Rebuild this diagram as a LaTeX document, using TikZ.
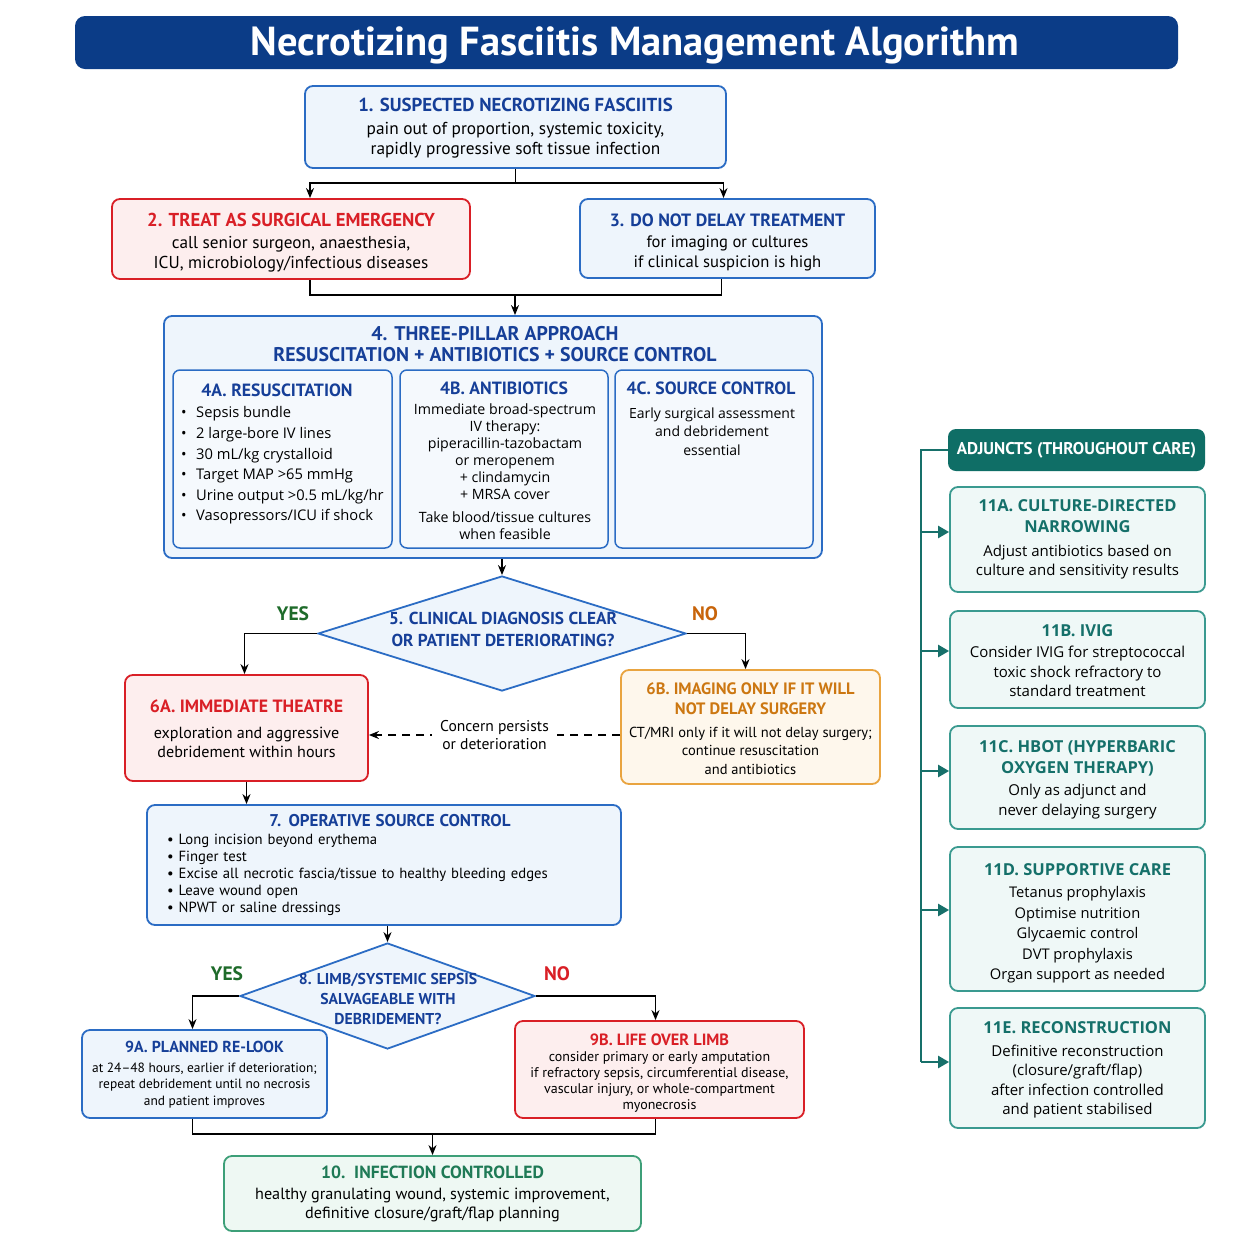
\documentclass[tikz,border=0pt]{standalone}
\usepackage{fontspec}
\setmainfont{PT Sans}
\newfontfamily\osans{Open Sans}
\usetikzlibrary{shapes.geometric,arrows.meta,calc}
\definecolor{navy}{HTML}{0B3C87}
\definecolor{tblue}{HTML}{163F98}
\definecolor{bblue}{HTML}{2B6CC4}
\definecolor{fblue}{HTML}{EEF5FC}
\definecolor{tred}{HTML}{D91F26}
\definecolor{fred}{HTML}{FDEEEE}
\definecolor{borange}{HTML}{E9A440}
\definecolor{torange}{HTML}{CC7711}
\definecolor{forange}{HTML}{FEF7EC}
\definecolor{bgreen}{HTML}{3D9F78}
\definecolor{tgreen}{HTML}{1F7A56}
\definecolor{fgreen}{HTML}{EEF8F3}
\definecolor{yesgreen}{HTML}{1E6B2A}
\definecolor{nored}{HTML}{D91F26}
\definecolor{noorange}{HTML}{C8640A}
\definecolor{teal1}{HTML}{17706A}
\definecolor{tealhdr}{HTML}{0F6E66}
\definecolor{teal2}{HTML}{3A9A90}
\definecolor{fteal}{HTML}{EFF8F7}
\definecolor{tteal}{HTML}{15706A}
\newcommand\fs[2]{\fontsize{#1}{#2}\selectfont}
\newcommand\bt[2]{{\color{#1}\bfseries #2}}
\newcommand\up[1]{\rule{0pt}{#1pt}}
\tikzset{
  box/.style={draw, rounded corners=8pt, line width=1.8pt, align=center, inner sep=0pt},
  bluebox/.style={box, draw=bblue, fill=fblue},
  subbox/.style={box, draw=bblue, fill=fblue!60!white, line width=1.5pt, rounded corners=7pt},
  redbox/.style={box, draw=tred, fill=fred},
  orbox/.style={box, draw=borange, fill=forange},
  grbox/.style={box, draw=bgreen, fill=fgreen},
  adjbox/.style={box, draw=teal2, fill=fteal, minimum width=255pt, font=\osans\fs{15}{19.5}},
  dia/.style={diamond, draw=bblue, fill=fblue, line width=1.8pt, inner sep=0pt},
  txt/.style={align=center, inner sep=0pt},
  ln/.style={line width=1.6pt, black},
  arr/.style={line width=1.6pt, black, -{Stealth[length=10pt,width=8pt]}},
  tln/.style={line width=2.4pt, teal1},
  tarr/.style={line width=2.4pt, teal1, -{Triangle[length=11pt,width=12pt]}},
}
\begin{document}
\begin{tikzpicture}[x=1pt,y=-1pt]
\fill[white] (0,0) rectangle (1254,1254);
\useasboundingbox (0,0) rectangle (1254,1254);

% title
\node[fill=navy, rounded corners=10pt, minimum width=1103pt, minimum height=53pt, inner sep=0pt] (title) at (626.5,42.5) {};
\node[txt, anchor=base, text=white, font=\bfseries\fs{40.5}{42}] (titletext) at (635,55.5) {Necrotizing Fasciitis Management Algorithm};

% box 1
\node[bluebox, minimum width=421pt, minimum height=82pt, font=\fs{17.3}{20}] (b1) at (515.5,127)
 {\up{16}\bt{tblue}{\fs{18.8}{20}1. SUSPECTED NECROTIZING FASCIITIS}\\[3pt]
  pain out of proportion, systemic toxicity,\\ rapidly progressive soft tissue infection};

% box 2 & 3
\node[redbox, minimum width=358pt, minimum height=80pt, font=\fs{17.2}{20}] (b2) at (291,239)
 {\up{20}\bt{tred}{\fs{18.7}{20}2. TREAT AS SURGICAL EMERGENCY}\\[2pt]
  call senior surgeon, anaesthesia,\\ ICU, microbiology/infectious diseases};
\node[bluebox, minimum width=295pt, minimum height=79pt, font=\fs{16.6}{20}] (b3) at (727.5,238.5)
 {\up{21}\bt{tblue}{\fs{17.8}{20}3. DO NOT DELAY TREATMENT}\\[1pt]
  for imaging or cultures\\ if clinical suspicion is high};

\coordinate (j1) at (515.5,183);
\coordinate (j2) at (515,295);
\draw[ln] (b1.south) -- (j1);
\draw[arr] (j1) -| ([xshift=19pt]b2.north);
\draw[arr] (j1) -| ([xshift=-4pt]b3.north);
\draw[ln] ([xshift=19pt]b2.south) |- (j2) -| ([xshift=-6pt]b3.south);

% box 4
\node[bluebox, minimum width=658pt, minimum height=242pt] (b4) at (493,437) {};
\draw[arr] (j2) -- (j2 |- b4.north);
\node[txt, font=\bfseries\fs{19.8}{21}, text=tblue] (b4t) at (495,344.5)
 {4. THREE-PILLAR APPROACH\\ RESUSCITATION + ANTIBIOTICS + SOURCE CONTROL};

\node[subbox, minimum width=219pt, minimum height=178pt] (b4a) at (282.5,459) {};
\node[subbox, minimum width=208pt, minimum height=178pt] (b4b) at (504,459) {};
\node[subbox, minimum width=198pt, minimum height=178pt] (b4c) at (714,459) {};

\node[txt, font=\bfseries\fs{17.7}{20}, text=tblue] (b4at) at (277,390) {4A. RESUSCITATION};
\node[txt, font=\bfseries\fs{17.7}{20}, text=tblue] (b4bt) at (504,388) {4B. ANTIBIOTICS};
\node[txt, font=\bfseries\fs{17.7}{20}, text=tblue] (b4ct) at (711,388) {4C. SOURCE CONTROL};

\node[txt, align=left, font=\osans\fs{14.7}{20.6}, anchor=west] (b4ab) at (181,465.5)
 {\textbullet\hspace{9.5pt}Sepsis bundle\\
  \textbullet\hspace{9.5pt}2 large-bore IV lines\\
  \textbullet\hspace{9.5pt}30 mL/kg crystalloid\\
  \textbullet\hspace{9.5pt}Target MAP >65 mmHg\\
  \textbullet\hspace{9.5pt}Urine output >0.5 mL/kg/hr\\
  \textbullet\hspace{9.5pt}Vasopressors/ICU if shock};
\node[txt, font=\osans\fs{14.2}{17}] (b4bb) at (505,471.5)
 {Immediate broad-spectrum\\ IV therapy:\\ piperacillin-tazobactam\\ or meropenem\\
  + clindamycin\\ + MRSA cover\\[6pt] Take blood/tissue cultures\\ when feasible};
\node[txt, font=\osans\fs{14}{18.5}] (b4cb) at (712,431.5)
 {Early surgical assessment\\ and debridement\\ essential};

% diamond 5
\node[dia, minimum width=368pt, minimum height=115pt] (d5) at (502,633.5) {};
\draw[arr] (b4.south -| d5.north) -- (d5.north);
\node[txt, font=\bfseries\fs{17.3}{22}, text=tblue] (d5t) at (503,629)
 {5. CLINICAL DIAGNOSIS CLEAR\\ OR PATIENT DETERIORATING?};
\node[txt, font=\bfseries\fs{19.5}{20}, text=yesgreen] (yes1) at (293,614) {YES};
\node[txt, font=\bfseries\fs{19.5}{20}, text=noorange] (no1) at (705,614) {NO};

% 6A 6B
\node[redbox, minimum width=243pt, minimum height=106pt, font=\fs{16.1}{19}] (b6a) at (246.5,728)
 {\up{15}\bt{tred}{\fs{17.8}{20}6A. IMMEDIATE THEATRE}\\[7pt]
  exploration and aggressive\\ debridement within hours};
\node[orbox, minimum width=259pt, minimum height=114pt, font=\fs{14.5}{18.5}] (b6b) at (750.5,727)
 {\up{15}\bt{torange}{\fs{16.5}{20}6B. IMAGING ONLY IF IT WILL}\\[1.5pt]
  \bt{torange}{\fs{16.5}{20}NOT DELAY SURGERY}\\[4pt]
  CT/MRI only if it will not delay surgery;\\ continue resuscitation\\ and antibiotics};
\draw[arr] (d5.west) -| ([xshift=-2pt]b6a.north);
\draw[arr] (d5.east) -| ([xshift=-5pt]b6b.north);
\draw[line width=1.8pt, dash pattern=on 8pt off 6pt, -{Stealth[length=10pt,width=8pt]}]
  ([yshift=-8pt]b6b.west) -- ([yshift=-7pt]b6a.east)
  node[midway, fill=white, txt, inner xsep=8pt, inner ysep=2pt, font=\fs{15.6}{18}] (dl) {Concern persists\\ or deterioration};

% box 7
\node[bluebox, minimum width=474pt, minimum height=120pt, text width=434pt, align=left, font=\fs{14.7}{17}] (b7) at (384,865)
 {{\centering\color{tblue}\bfseries\fs{17}{20}\hspace*{12pt}7. OPERATIVE SOURCE CONTROL\par}
  \vspace{1pt}
  \textbullet\hspace{5pt}Long incision beyond erythema\\
  \textbullet\hspace{5pt}Finger test\\
  \textbullet\hspace{5pt}Excise all necrotic fascia/tissue to healthy bleeding edges\\
  \textbullet\hspace{5pt}Leave wound open\\
  \textbullet\hspace{5pt}NPWT or saline dressings};
\draw[arr] (b6a.south) -- (b6a.south |- b7.north);

% diamond 8
\node[dia, minimum width=295pt, minimum height=106pt] (d8) at (387.5,996) {};
\draw[arr] (d8.north |- b7.south) -- (d8.north);
\node[txt, font=\bfseries\fs{15.7}{20}, text=tblue] (d8t) at (388,999)
 {8. LIMB/SYSTEMIC SEPSIS\\ SALVAGEABLE WITH\\ DEBRIDEMENT?};
\node[txt, font=\bfseries\fs{19.5}{20}, text=yesgreen] (yes2) at (227,974) {YES};
\node[txt, font=\bfseries\fs{19.5}{20}, text=nored] (no2) at (557,974) {NO};

% 9A 9B
\node[bluebox, minimum width=245pt, minimum height=88pt, font=\fs{13.4}{16.5}] (b9a) at (204.5,1074)
 {\up{13}\bt{tblue}{\fs{15.9}{18}9A. PLANNED RE-LOOK}\\[3pt]
  at 24--48 hours, earlier if deterioration;\\ repeat debridement until no necrosis\\ and patient improves};
\node[redbox, minimum width=289pt, minimum height=97pt, font=\fs{14}{16}] (b9b) at (659.5,1069.5)
 {\up{18.5}\bt{tred}{\fs{16.3}{18}9B. LIFE OVER LIMB}\\[0pt]
  consider primary or early amputation\\ if refractory sepsis, circumferential disease,\\
  vascular injury, or whole-compartment\\ myonecrosis};
\draw[arr] (d8.west) -| ([xshift=-12pt]b9a.north);
\draw[arr] (d8.east) -| ([xshift=-4pt]b9b.north);

% box 10
\node[grbox, minimum width=417pt, minimum height=75pt, font=\fs{16.2}{19}] (b10) at (432.5,1193.5)
 {\up{14}\bt{tgreen}{\fs{17.6}{20}10.\ \ INFECTION CONTROLLED}\\[2pt]
  healthy granulating wound, systemic improvement,\\ definitive closure/graft/flap planning};
\coordinate (j9) at (432.5,1134);
\draw[ln] ([xshift=-12pt]b9a.south) |- (j9) -| ([xshift=-4pt]b9b.south);
\draw[arr] (j9) -- (b10.north);

% adjuncts
\node[fill=tealhdr, rounded corners=8pt, minimum width=257pt, minimum height=42pt, inner sep=0pt,
  text=white, font=\bfseries\fs{17}{20}] (hdr) at (1076.5,450) {ADJUNCTS (THROUGHOUT CARE)};

\node[adjbox, minimum height=105pt] (a1) at (1077.5,539.5)
 {\bt{tteal}{\fs{16.5}{21}11A. CULTURE-DIRECTED}\\[1.5pt] \bt{tteal}{\fs{16.5}{21}NARROWING}\\[4pt]
  Adjust antibiotics based on\\ culture and sensitivity results};
\node[adjbox, minimum height=97pt] (a2) at (1077.5,659.5)
 {\up{14}\bt{tteal}{\fs{16.5}{21}11B. IVIG}\\[2pt]
  Consider IVIG for streptococcal\\ toxic shock refractory to\\ standard treatment};
\node[adjbox, minimum height=103pt] (a3) at (1077.5,777.5)
 {\up{16}\bt{tteal}{\fs{16.5}{21}11C. HBOT (HYPERBARIC}\\[1.5pt] \bt{tteal}{\fs{16.5}{21}OXYGEN THERAPY)}\\[3pt]
  Only as adjunct and\\ never delaying surgery};
\node[adjbox, minimum height=144pt, font=\osans\fs{14.7}{20.5}] (a4) at (1077.5,919)
 {\up{20.5}\bt{tteal}{\fs{16.5}{21}11D. SUPPORTIVE CARE}\\[2pt]
  Tetanus prophylaxis\\ Optimise nutrition\\ Glycaemic control\\ DVT prophylaxis\\ Organ support as needed};
\node[adjbox, minimum height=120pt] (a5) at (1077.5,1068)
 {\up{16}\bt{tteal}{\fs{16.5}{21}11E. RECONSTRUCTION}\\[3pt]
  Definitive reconstruction\\ (closure/graft/flap)\\ after infection controlled\\ and patient stabilised};

\coordinate (t1) at (921,532);
\coordinate (t2) at (921,651);
\coordinate (t3) at (921,771);
\coordinate (t4) at (921,910);
\coordinate (t5) at (921,1062);
\draw[tln] (hdr.west) -| (t5);
\draw[tarr] (t1) -- (t1 -| a1.west);
\draw[tarr] (t2) -- (t2 -| a2.west);
\draw[tarr] (t3) -- (t3 -| a3.west);
\draw[tarr] (t4) -- (t4 -| a4.west);
\draw[tarr] (t5) -- (t5 -| a5.west);
\end{tikzpicture}
\end{document}
